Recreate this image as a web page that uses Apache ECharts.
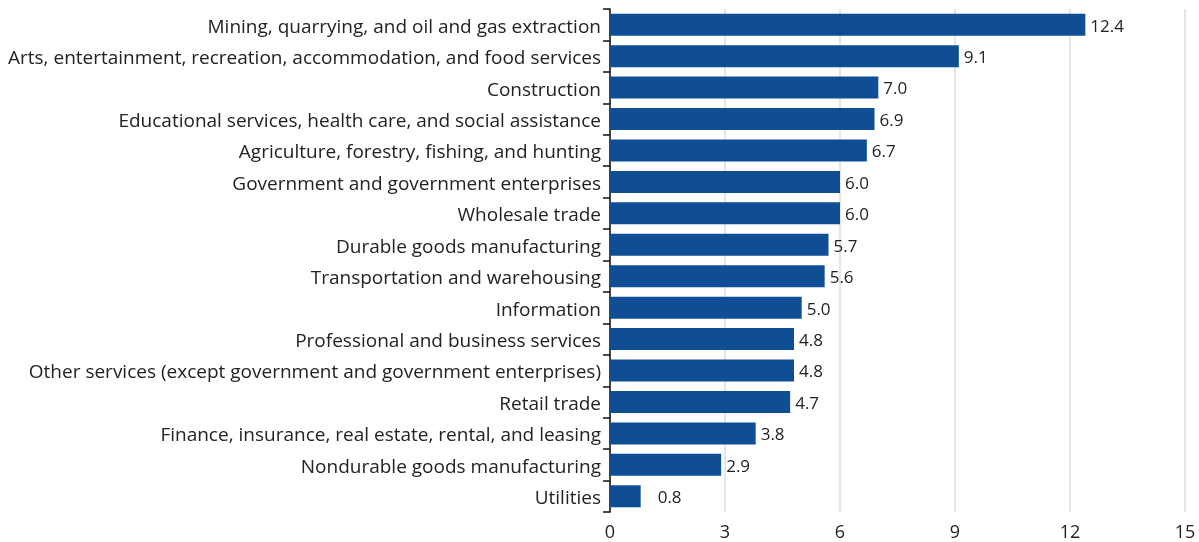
<!DOCTYPE html>
<html>
<head>
<meta charset="utf-8">
<script src="https://cdn.jsdelivr.net/npm/echarts@6/dist/echarts.min.js"></script>
<style>
  html, body { margin: 0; padding: 0; background: #fff; }
  #chart { width: 1199px; height: 542px; }
</style>
</head>
<body>
<div id="chart"></div>
<script>
// Industry categories, top to bottom
const industries = [
  "Mining, quarrying, and oil and gas extraction",
  "Arts, entertainment, recreation, accommodation, and food services",
  "Construction",
  "Educational services, health care, and social assistance",
  "Agriculture, forestry, fishing, and hunting",
  "Government and government enterprises",
  "Wholesale trade",
  "Durable goods manufacturing",
  "Transportation and warehousing",
  "Information",
  "Professional and business services",
  "Other services (except government and government enterprises)",
  "Retail trade",
  "Finance, insurance, real estate, rental, and leasing",
  "Nondurable goods manufacturing",
  "Utilities"
];

// Percent change by industry
const values = [12.4, 9.1, 7.0, 6.9, 6.7, 6.0, 6.0, 5.7, 5.6, 5.0, 4.8, 4.8, 4.7, 3.8, 2.9, 0.8];

// Value axis ticks
const axisMin = 0;
const axisMax = 15;
const axisStep = 3;

const FONT = "'Open Sans', 'Noto Sans', sans-serif";
const TEXT = "#222";

const chart = echarts.init(document.getElementById('chart'), null, { renderer: 'canvas' });

chart.setOption({
  animation: false,
  grid: { left: 610, right: 14, top: 9, bottom: 30, containLabel: false },
  xAxis: {
    type: 'value',
    min: axisMin,
    max: axisMax,
    interval: axisStep,
    axisLine: { show: false },
    axisTick: { show: false },
    splitLine: { show: true, lineStyle: { color: '#dcdcdc', width: 1.5 } },
    axisLabel: { color: TEXT, fontFamily: FONT, fontSize: 18, margin: 12 }
  },
  yAxis: {
    type: 'category',
    data: industries,
    inverse: true,
    axisLine: { show: true, lineStyle: { color: '#111', width: 1.5 } },
    axisTick: { show: true, length: 7, lineStyle: { color: '#111', width: 1.5 } },
    axisLabel: {
      color: TEXT, fontFamily: FONT, fontSize: 19, margin: 9,
      formatter: name => '{t|' + name + '}',
      rich: {
        t: { color: TEXT, fontFamily: FONT, fontSize: 19, padding: [5, 0, 0, 0] }
      }
    }
  },
  series: [{
    type: 'bar',
    data: values.map(v => v < 1
      ? { value: v, label: { offset: [12, 2] } }
      : v),
    barCategoryGap: '30%',
    itemStyle: { color: '#0f4e95' },
    label: {
      show: true,
      position: 'right',
      distance: 5,
      offset: [0, 2],
      color: TEXT,
      fontFamily: FONT,
      fontSize: 17,
      formatter: p => p.value.toFixed(1)
    }
  }]
});
</script>
</body>
</html>
